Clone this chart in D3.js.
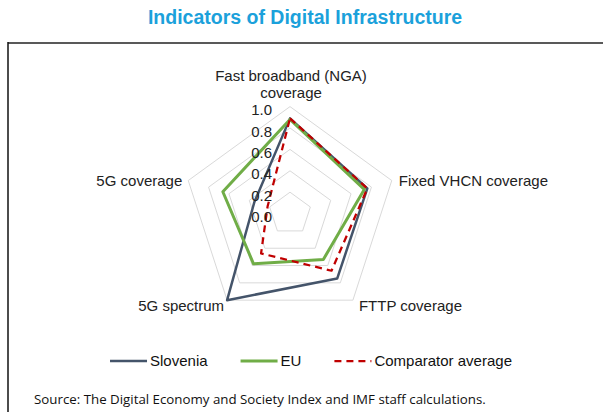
<!DOCTYPE html>
<html>
<head>
<meta charset="utf-8">
<script src="https://cdn.jsdelivr.net/npm/d3@7"></script>
<style>
  body { margin: 0; background: #fff; }
  svg { display: block; font-family: "Liberation Sans", Arial, sans-serif; }
</style>
</head>
<body>
<script>
// chart data
var axes = [["Fast broadband (NGA)", "coverage"], ["Fixed VHCN coverage"], ["FTTP coverage"], ["5G spectrum"], ["5G coverage"]];
var slovenia = [0.89, 0.76, 0.75, 1.0, 0.35];
var eu = [0.88, 0.73, 0.53, 0.58, 0.66];
var comparator = [0.89, 0.76, 0.66, 0.46, 0.22];
var ticks = [0, 0.2, 0.4, 0.6, 0.8, 1.0];
var seriesNames = ["Slovenia", "EU", "Comparator average"];

var width = 603, height = 412;
var cx = 290, cy = 213.6, R = 107;

var series = [
  {name: seriesNames[0], values: slovenia, color: "#44546A", w: 2.5, dash: null},
  {name: seriesNames[1], values: eu, color: "#70AD47", w: 3, dash: null},
  {name: seriesNames[2], values: comparator, color: "#C00000", w: 2.25, dash: "7,5"}
];

var svg = d3.select("body").append("svg")
  .attr("width", width)
  .attr("height", height);

// title
svg.append("text")
  .attr("x", 305).attr("y", 24)
  .attr("text-anchor", "middle")
  .style("font-size", "19.5px").style("font-weight", "bold")
  .style("fill", "#1BA1DB")
  .text("Indicators of Digital Infrastructure");

// frame
svg.append("line").attr("x1", 8).attr("x2", width).attr("y1", 43).attr("y2", 43)
  .style("stroke", "#595959").style("stroke-width", 2);
svg.append("line").attr("x1", 8).attr("x2", 8).attr("y1", 42).attr("y2", height)
  .style("stroke", "#111").style("stroke-width", 1.5);

var r = d3.scaleLinear().domain([0, 1]).range([0, R]);
var angle = d3.scaleLinear().domain([0, axes.length]).range([0, 2 * Math.PI]);

var g = svg.append("g").attr("transform", "translate(" + cx + "," + cy + ")");

var radial = d3.lineRadial()
  .angle(function(d, i) { return angle(i); })
  .radius(function(d) { return r(d); })
  .curve(d3.curveLinearClosed);

// grid pentagons
g.selectAll(".grid")
  .data(ticks.filter(function(t) { return t > 0; }))
  .enter().append("path")
  .attr("d", function(t) { return radial(axes.map(function() { return t; })); })
  .style("fill", "none").style("stroke", "#D9D9D9").style("stroke-width", 1);

// series
series.forEach(function(s) {
  g.append("path")
    .datum(s.values)
    .attr("d", radial)
    .style("fill", "none")
    .style("stroke", s.color)
    .style("stroke-width", s.w)
    .style("stroke-dasharray", s.dash)
    .style("stroke-linejoin", "round");
});

// tick labels
g.selectAll(".tick")
  .data(ticks)
  .enter().append("text")
  .attr("x", -18)
  .attr("y", function(t) { return -r(t) + 3.3; })
  .attr("dy", "0.35em")
  .attr("text-anchor", "end")
  .style("font-size", "15px").style("fill", "#222")
  .text(function(t) { return d3.format(".1f")(t); });

// axis labels
axes.forEach(function(lines, i) {
  var a = angle(i), sx = Math.sin(a), cyy = -Math.cos(a);
  var vx = r(1) * sx, vy = r(1) * cyy;
  var t = g.append("text").style("font-size", "15px").style("fill", "#222");
  if (Math.abs(sx) < 0.1) {
    t.attr("text-anchor", "middle");
    lines.forEach(function(l, j) {
      t.append("tspan").attr("x", vx + 1)
        .attr("y", vy - 9 - (lines.length - 1 - j) * 16.5).text(l);
    });
  } else {
    var anchor = sx > 0 ? "start" : "end";
    var lx = vx + (sx > 0 ? 7 : -6);
    var ly = cyy > 0 ? vy + 11 : vy + 5;
    if (cyy > 0) lx = vx + (sx > 0 ? 6 : -3);
    t.attr("text-anchor", anchor).attr("x", lx).attr("y", ly).text(lines[0]);
  }
});

// legend
var legend = svg.append("g");
var lx = 0, legY = 361;
series.forEach(function(s) {
  var it = legend.append("g").attr("transform", "translate(" + lx + ",0)");
  it.append("line").attr("x1", 0).attr("x2", 37).attr("y1", legY).attr("y2", legY)
    .style("stroke", s.color).style("stroke-width", s.w)
    .style("stroke-dasharray", s.dash);
  var tx = it.append("text").attr("x", 40).attr("y", legY).attr("dy", "0.35em")
    .style("font-size", "15px").style("fill", "#111").text(s.name);
  lx += 40 + tx.node().getComputedTextLength() + 33;
});
var legW = lx - 33;
legend.attr("transform", "translate(" + (311 - legW / 2) + ",0)");

// source
svg.append("text")
  .attr("x", 34).attr("y", 404)
  .style("font-family", "'Open Sans', 'Noto Sans', sans-serif")
  .style("font-size", "13.3px").style("fill", "#111")
  .text("Source: The Digital Economy and Society Index and IMF staff calculations.");
</script>
</body>
</html>
